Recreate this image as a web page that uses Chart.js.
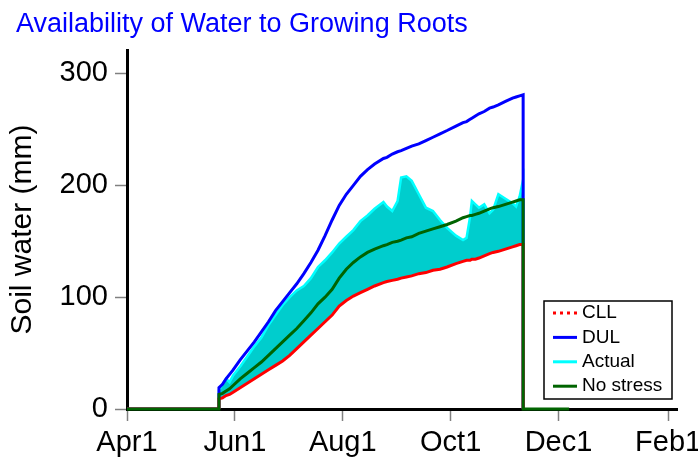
<!DOCTYPE html>
<html>

<head>
    <meta charset="utf-8">
    <script src="https://cdn.jsdelivr.net/npm/chart.js"></script>
    <title>Availability of Water to Growing Roots</title>
    <style>
        body {
            margin: 0;
            background: #fff;
        }
    </style>
</head>

<body>
    <canvas id="chart" width="698" height="466"></canvas>
    <script>
        // days since Apr1
        const days = [0, 52, 52, 54, 56, 58, 60, 64, 68, 72, 76, 80, 84, 88, 92, 96, 100, 104, 108, 112, 116, 120, 124, 128,
            132, 136, 140, 145, 147, 150, 153, 155, 158, 161, 165, 169, 173, 177, 181, 186, 190, 192, 194, 195, 197, 199,
            202, 205, 207, 210, 214, 218, 220, 222, 224, 224, 250]

        const cll = [0, 0, 9, 10, 12, 13, 15, 19, 23, 27, 31, 35, 39, 43, 48, 54, 60, 66, 72, 78, 84, 92, 97, 101,
            104, 107, 110, 113, 114, 115, 116, 117, 118, 119, 121, 122, 124, 125, 127, 130, 132, 133, 133, 134, 134, 135,
            137, 139, 140, 141, 143, 145, 146, 147, 147, 0, null]

        const dul = [0, 0, 19, 22, 27, 31, 35, 44, 52, 60, 69, 78, 88, 96, 104, 112, 121, 131, 142, 155, 169, 182, 192, 200,
            208, 214, 219, 224, 225, 228, 230, 231, 233, 235, 237, 240, 243, 246, 249, 253, 256, 257, 259, 260, 262, 264,
            266, 269, 270, 272, 275, 278, 279, 280, 281, 0, null]

        const actual = [0, 0, 17, 22, 27, 24, 30, 38, 47, 56, 64, 75, 84, 93, 100, 106, 110, 117, 127, 133, 140, 148, 154, 160,
            168, 173, 179, 185, 181, 177, 186, 207, 208, 204, 192, 180, 177, 169, 162, 155, 151, 153, 172, 186, 183, 180,
            183, 175, 178, 192, 188, 184, 181, 190, 205, 0, null]

        const noStress = [0, 0, 13, 14, 16, 18, 21, 27, 32, 37, 42, 48, 54, 60, 66, 72, 79, 86, 94, 100, 107, 117, 125, 131,
            136, 140, 143, 146, 147, 149, 150, 151, 153, 154, 157, 159, 161, 163, 165, 168, 171, 172, 173, 173, 174, 175,
            177, 179, 180, 181, 183, 185, 186, 187, 187, 0, 0]

        const tickDays = [0, 61, 122, 183, 244, 306]
        const tickLabels = ['Apr1', 'Jun1', 'Aug1', 'Oct1', 'Dec1', 'Feb1']
        const yTicks = [0, 100, 200, 300]

        const FONT = "'Liberation Sans', Arial, sans-serif"

        function pts(values) {
            return days.map(function (d, i) {
                return { x: d, y: values[i] }
            })
        }

        // legend box drawn inside the plot, bottom right
        const boxLegend = {
            id: 'boxLegend',
            afterDraw: function (chart) {
                const ctx = chart.ctx
                const area = chart.chartArea
                const w = 128, h = 98
                const x = area.right - 5 - w
                const y = area.bottom - 10 - h
                ctx.save()
                ctx.fillStyle = '#fff'
                ctx.fillRect(x, y, w, h)
                ctx.strokeStyle = '#000'
                ctx.lineWidth = 1.5
                ctx.strokeRect(x, y, w, h)
                ctx.font = '19px ' + FONT
                ctx.textBaseline = 'middle'
                chart.data.datasets.forEach(function (ds, i) {
                    const ly = y + 12 + i * 24.4
                    ctx.beginPath()
                    ctx.strokeStyle = ds.borderColor
                    ctx.lineWidth = 3
                    ctx.setLineDash(i === 0 ? [3, 4] : [])
                    ctx.moveTo(x + 9, ly)
                    ctx.lineTo(x + 33, ly)
                    ctx.stroke()
                    ctx.setLineDash([])
                    ctx.fillStyle = '#000'
                    ctx.fillText(ds.label, x + 38, ly)
                })
                ctx.restore()
            }
        }

        new Chart(document.getElementById('chart'), {
            type: 'line',
            data: {
                datasets: [{
                    label: 'CLL',
                    data: pts(cll),
                    borderColor: '#ff0000',
                    borderWidth: 3,
                    order: 1
                }, {
                    label: 'DUL',
                    data: pts(dul),
                    borderColor: '#0000ff',
                    borderWidth: 3,
                    order: 2
                }, {
                    label: 'Actual',
                    data: pts(actual),
                    borderColor: '#00ffff',
                    backgroundColor: '#00cdcd',
                    borderWidth: 2.5,
                    fill: 0,
                    order: 3
                }, {
                    label: 'No stress',
                    data: pts(noStress),
                    borderColor: '#006400',
                    borderWidth: 3,
                    clip: false,
                    order: 0
                }]
            },
            options: {
                responsive: false,
                animation: false,
                devicePixelRatio: 1,
                elements: {
                    point: { radius: 0 },
                    line: { tension: 0, borderJoinStyle: 'miter' }
                },
                layout: {
                    padding: { left: 16, right: 21, top: 0, bottom: 0 }
                },
                plugins: {
                    legend: { display: false },
                    tooltip: { enabled: false },
                    title: {
                        display: true,
                        text: 'Availability of Water to Growing Roots',
                        align: 'start',
                        color: '#0000ff',
                        font: { family: FONT, size: 27, weight: 'normal' },
                        padding: { top: 8, bottom: 9.6 }
                    }
                },
                scales: {
                    x: {
                        type: 'linear',
                        min: 0,
                        max: 311,
                        grid: {
                            drawOnChartArea: false,
                            drawTicks: true,
                            tickLength: 12,
                            tickColor: '#808080',
                            tickWidth: 1.5
                        },
                        border: { display: true, color: '#000', width: 3 },
                        ticks: {
                            color: '#000',
                            padding: 5,
                            maxRotation: 0,
                            font: { family: FONT, size: 29 },
                            callback: function (v) {
                                return tickLabels[tickDays.indexOf(v)]
                            }
                        },
                        afterBuildTicks: function (scale) {
                            scale.ticks = tickDays.map(function (v) { return { value: v } })
                        },
                        afterFit: function (scale) {
                            scale.height = 57
                            scale.paddingLeft = 0
                            scale.paddingRight = 0
                        }
                    },
                    y: {
                        min: 0,
                        max: 321,
                        grid: {
                            drawOnChartArea: false,
                            drawTicks: true,
                            tickLength: 12,
                            tickColor: '#808080',
                            tickWidth: 1.5
                        },
                        border: { display: true, color: '#000', width: 3 },
                        title: {
                            display: true,
                            text: 'Soil water (mm)',
                            color: '#000',
                            font: { family: FONT, size: 30, lineHeight: 0.43 },
                            padding: 0
                        },
                        ticks: {
                            color: '#000',
                            padding: 7,
                            font: { family: FONT, size: 29 }
                        },
                        afterBuildTicks: function (scale) {
                            scale.ticks = yTicks.map(function (v) { return { value: v } })
                        },
                        afterFit: function (scale) {
                            scale.width = 111
                            scale.paddingTop = 0
                            scale.paddingBottom = 0
                        }
                    }
                }
            },
            plugins: [boxLegend]
        })
    </script>
</body>

</html>
